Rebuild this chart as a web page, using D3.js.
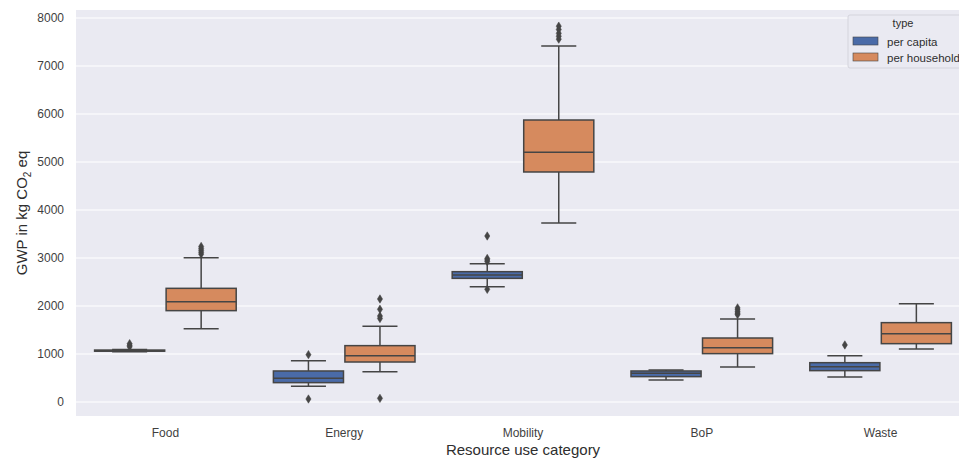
<!DOCTYPE html>
<html>
<head>
<meta charset="utf-8">
<script src="https://cdn.jsdelivr.net/npm/d3@7"></script>
<style>
  html, body { margin: 0; padding: 0; background: #ffffff; overflow: hidden; }
  svg { display: block; font-family: "Liberation Sans", Arial, sans-serif; }
</style>
</head>
<body>
<svg id="chart" width="959" height="458"></svg>
<script>
// ---- data ----
const categories = ["Food", "Energy", "Mobility", "BoP", "Waste"];
const types = ["per capita", "per household"];
const yTicks = [0, 1000, 2000, 3000, 4000, 5000, 6000, 7000, 8000];

// per capita: whisker low, Q1, median, Q3, whisker high
const capitaLow  = [1045, 326, 2403, 458, 521];
const capitaQ1   = [1058, 403, 2576, 528, 653];
const capitaMed  = [1068, 493, 2646, 597, 736];
const capitaQ3   = [1082, 646, 2715, 646, 819];
const capitaHigh = [1095, 861, 2882, 667, 965];
const capitaOutliers = [
  [1150, 1180, 1215],
  [986, 62],
  [3458, 2990, 2960, 2925, 2347],
  [],
  [1188]
];

// per household
const householdLow  = [1528, 632, 3729, 729, 1104];
const householdQ1   = [1903, 833, 4792, 1007, 1215];
const householdMed  = [2090, 965, 5201, 1132, 1424];
const householdQ3   = [2368, 1174, 5875, 1333, 1653];
const householdHigh = [3007, 1576, 7417, 1729, 2049];
const householdOutliers = [
  [3080, 3120, 3160, 3200, 3240],
  [2146, 1931, 1790, 1740, 76],
  [7560, 7620, 7680, 7760, 7830],
  [1820, 1850, 1880, 1920, 1960],
  []
];

const colors = ["#4a6ba8", "#d68a5e"];

// ---- build records ----
const records = [];
categories.forEach((c, i) => {
  records.push({cat: c, type: types[0], low: capitaLow[i], q1: capitaQ1[i], med: capitaMed[i],
                q3: capitaQ3[i], high: capitaHigh[i], out: capitaOutliers[i]});
  records.push({cat: c, type: types[1], low: householdLow[i], q1: householdQ1[i], med: householdMed[i],
                q3: householdQ3[i], high: householdHigh[i], out: householdOutliers[i]});
});

// ---- layout ----
const svg = d3.select("#chart");
const pLeft = 76, pRight = 970, pTop = 10, pBottom = 416;

const x = d3.scaleBand().domain(categories).range([pLeft, pRight]);
const xs = d3.scaleBand().domain(types).range([0.1 * x.bandwidth(), 0.9 * x.bandwidth()]);
const y = d3.scaleLinear().domain([-292, 8167]).range([pBottom, pTop]);
const color = d3.scaleOrdinal().domain(types).range(colors);

// background
svg.append("rect").attr("x", pLeft).attr("y", pTop)
  .attr("width", pRight - pLeft).attr("height", pBottom - pTop).attr("fill", "#eaeaf2");

// grid
svg.append("g").selectAll("line").data(yTicks).join("line")
  .attr("x1", pLeft).attr("x2", pRight)
  .attr("y1", d => y(d)).attr("y2", d => y(d))
  .attr("stroke", "#ffffff").attr("stroke-width", 1.2);

// y axis (labels only)
const yAxis = d3.axisLeft(y).tickValues(yTicks).tickSize(0).tickPadding(12).tickFormat(d3.format("d"));
const gy = svg.append("g").attr("transform", `translate(${pLeft},0)`).call(yAxis);
gy.select(".domain").remove();
gy.selectAll("text").attr("font-size", 12).attr("fill", "#3f3f3f")
  .attr("font-family", "Liberation Sans, Arial, sans-serif");

// x axis (labels only)
const xAxis = d3.axisBottom(x).tickSize(0).tickPadding(12);
const gx = svg.append("g").attr("transform", `translate(0,${pBottom})`).call(xAxis);
gx.select(".domain").remove();
gx.selectAll("text").attr("font-size", 12).attr("fill", "#3f3f3f")
  .attr("font-family", "Liberation Sans, Arial, sans-serif");

// axis titles
svg.append("text").attr("x", 523).attr("y", 455).attr("text-anchor", "middle")
  .attr("font-size", 15).attr("fill", "#2e2e2e").text("Resource use category");

const yl = svg.append("text")
  .attr("transform", `translate(27,${(pTop + pBottom) / 2}) rotate(-90)`)
  .attr("text-anchor", "middle").attr("font-size", 15).attr("fill", "#2e2e2e");
yl.append("tspan").text("GWP in kg CO");
yl.append("tspan").attr("font-size", 10).attr("dy", 4).text("2");
yl.append("tspan").attr("dy", -4).text(" eq");

// boxes
const gray = "#454545";
const boxW = xs.bandwidth() * 0.98;
const g = svg.append("g");
records.forEach(r => {
  const cx = x(r.cat) + xs(r.type) + xs.bandwidth() / 2;
  const bg = g.append("g");
  bg.append("line").attr("x1", cx).attr("x2", cx).attr("y1", y(r.q3)).attr("y2", y(r.high))
    .attr("stroke", gray).attr("stroke-width", 1.5);
  bg.append("line").attr("x1", cx).attr("x2", cx).attr("y1", y(r.q1)).attr("y2", y(r.low))
    .attr("stroke", gray).attr("stroke-width", 1.5);
  [r.low, r.high].forEach(v => {
    bg.append("line").attr("x1", cx - boxW / 4).attr("x2", cx + boxW / 4)
      .attr("y1", y(v)).attr("y2", y(v)).attr("stroke", gray).attr("stroke-width", 1.5);
  });
  bg.append("rect").attr("x", cx - boxW / 2).attr("width", boxW)
    .attr("y", y(r.q3)).attr("height", Math.max(1, y(r.q1) - y(r.q3)))
    .attr("fill", color(r.type)).attr("stroke", gray).attr("stroke-width", 1.5);
  bg.append("line").attr("x1", cx - boxW / 2).attr("x2", cx + boxW / 2)
    .attr("y1", y(r.med)).attr("y2", y(r.med)).attr("stroke", gray).attr("stroke-width", 1.5);
  bg.selectAll("path.out").data(r.out).join("path").attr("class", "out")
    .attr("transform", d => `translate(${cx},${y(d)})`)
    .attr("d", "M0,-4.2L2.6,0L0,4.2L-2.6,0Z")
    .attr("fill", gray).attr("stroke", gray).attr("stroke-width", 0.5);
});

// legend
const lg = svg.append("g");
lg.append("rect").attr("x", 848).attr("y", 15).attr("width", 130).attr("height", 53).attr("rx", 2)
  .attr("fill", "#eaeaf2").attr("stroke", "#d4d4dc").attr("stroke-width", 1);
lg.append("text").attr("x", 903).attr("y", 27).attr("text-anchor", "middle")
  .attr("font-size", 11).attr("fill", "#2e2e2e").text("type");
types.forEach((t, i) => {
  lg.append("rect").attr("x", 853).attr("y", 37 + i * 16).attr("width", 25).attr("height", 8)
    .attr("fill", color(t)).attr("stroke", gray).attr("stroke-width", 0.6);
  lg.append("text").attr("x", 887).attr("y", 45.5 + i * 16)
    .attr("font-size", 11.5).attr("fill", "#2e2e2e").text(t);
});
</script>
</body>
</html>
